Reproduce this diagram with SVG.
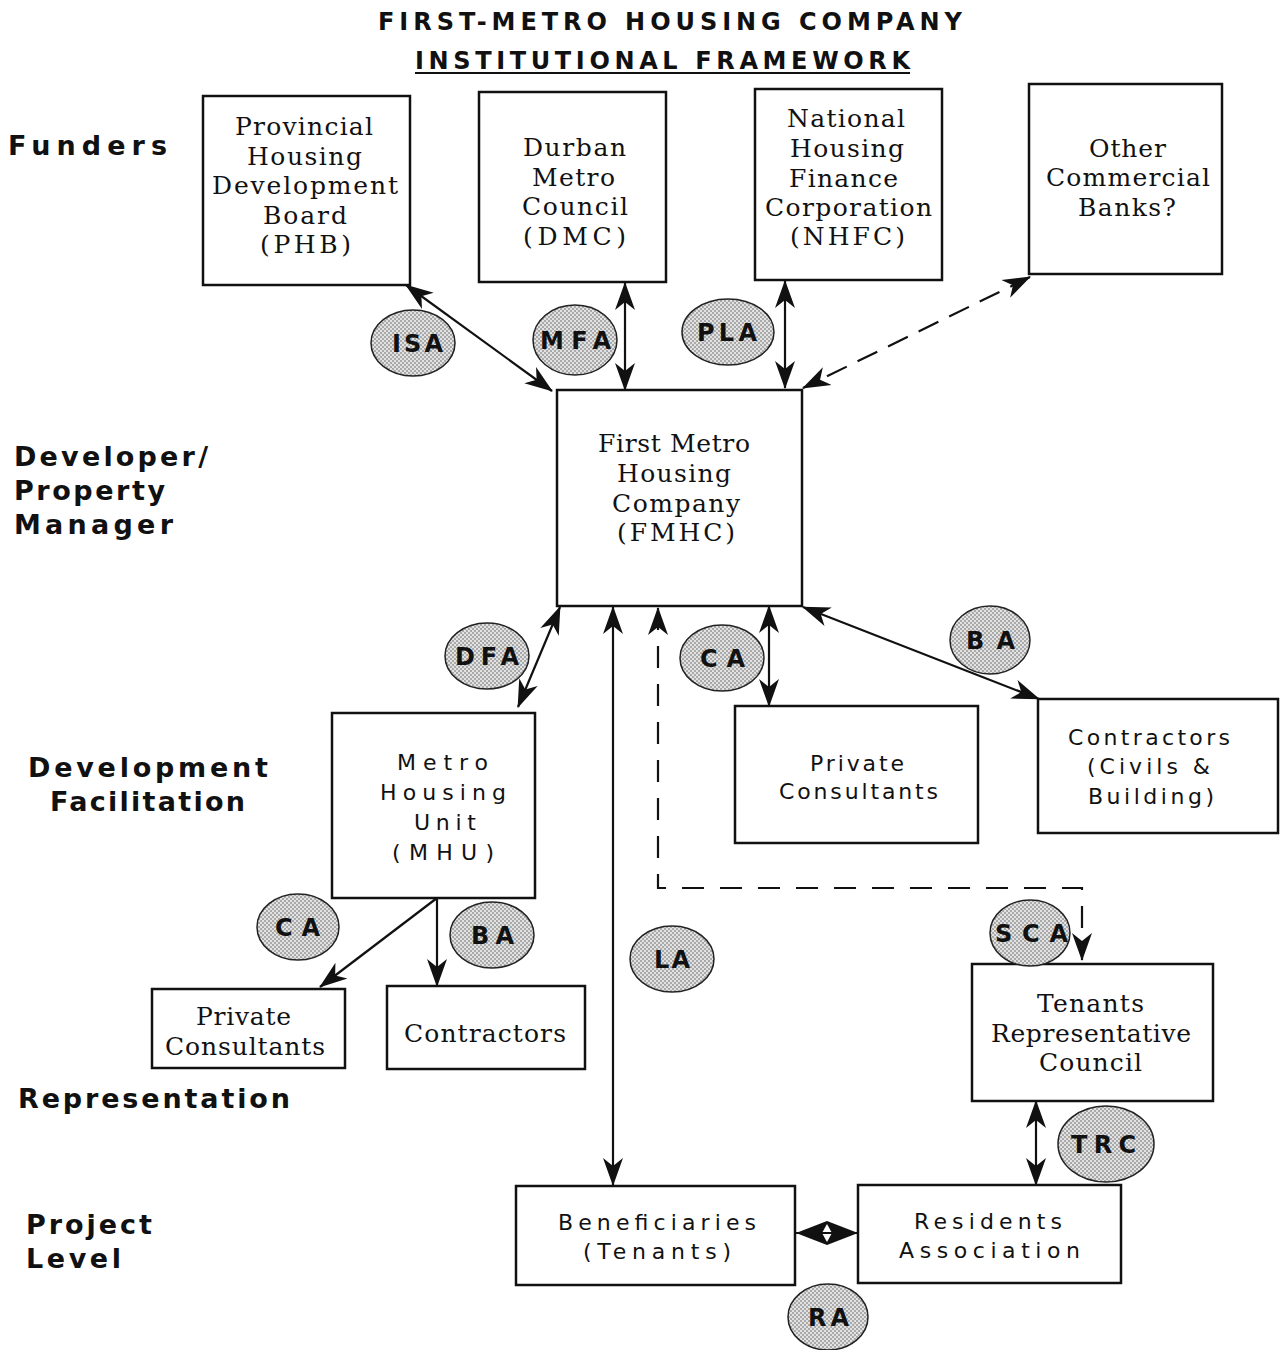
<svg xmlns="http://www.w3.org/2000/svg" width="1284" height="1350" viewBox="0 0 1284 1350">
<defs>
<pattern id="stip" width="4" height="4" patternUnits="userSpaceOnUse">
<rect width="4" height="4" fill="#e2e2e2"/>
<circle cx="1" cy="1" r="0.75" fill="#555"/>
<circle cx="3" cy="3" r="0.75" fill="#555"/>
</pattern>
<marker id="ah" viewBox="0 0 28 22" refX="27" refY="11" markerWidth="28" markerHeight="22" markerUnits="userSpaceOnUse" orient="auto-start-reverse">
<path d="M0,1 L28,11 L0,21 L8,11 z" fill="#111"/>
</marker>
</defs>
<style>
.box{fill:#fff;stroke:#111;stroke-width:2.5}
.ser{font-family:"DejaVu Serif","Liberation Serif",serif;font-size:25px;fill:#111}
.san{font-family:"DejaVu Sans","Liberation Sans",sans-serif;font-size:22px;fill:#111}
.side{font-family:"DejaVu Sans","Liberation Sans",sans-serif;font-weight:bold;font-size:27px;fill:#111}
.ttl{font-family:"DejaVu Sans","Liberation Sans",sans-serif;font-weight:bold;font-size:24px;fill:#111}
.ell{fill:url(#stip);stroke:#222;stroke-width:1.5}
.el{font-family:"DejaVu Sans","Liberation Sans",sans-serif;font-weight:bold;font-size:24px;fill:#111}
.ln{fill:none;stroke:#111;stroke-width:2.2}
</style>
<rect width="1284" height="1350" fill="#fff"/>

<g id="title">
<text class="ttl" x="378" y="30" textLength="584" lengthAdjust="spacing">FIRST-METRO HOUSING COMPANY</text>
<text class="ttl" x="415" y="69" textLength="495" lengthAdjust="spacing">INSTITUTIONAL FRAMEWORK</text>
<line x1="415" y1="73" x2="910" y2="73" stroke="#111" stroke-width="2"/>
</g>

<g id="side-labels">
<text class="side" x="8" y="155" font-size="28" textLength="159" lengthAdjust="spacing">Funders</text>
<text class="side" x="14" y="466" textLength="194" lengthAdjust="spacing">Developer/</text>
<text class="side" x="14" y="500" textLength="151" lengthAdjust="spacing">Property</text>
<text class="side" x="14" y="534" textLength="159" lengthAdjust="spacing">Manager</text>
<text class="side" x="28" y="777" textLength="240" lengthAdjust="spacing">Development</text>
<text class="side" x="50" y="811" textLength="195" lengthAdjust="spacing">Facilitation</text>
<text class="side" x="18" y="1108" textLength="272" lengthAdjust="spacing">Representation</text>
<text class="side" x="26" y="1234" textLength="126" lengthAdjust="spacing">Project</text>
<text class="side" x="26" y="1268" textLength="95" lengthAdjust="spacing">Level</text>
</g>

<g id="connectors">
<line class="ln" x1="406" y1="285" x2="552" y2="391" marker-start="url(#ah)" marker-end="url(#ah)"/>
<line class="ln" x1="625" y1="283" x2="625" y2="390" marker-start="url(#ah)" marker-end="url(#ah)"/>
<line class="ln" x1="785" y1="281" x2="785" y2="388" marker-start="url(#ah)" marker-end="url(#ah)"/>
<line class="ln" x1="1030" y1="277" x2="803" y2="388" stroke-dasharray="22 12" marker-start="url(#ah)" marker-end="url(#ah)"/>
<line class="ln" x1="560" y1="607" x2="518" y2="707" marker-start="url(#ah)" marker-end="url(#ah)"/>
<line class="ln" x1="613" y1="607" x2="613" y2="1185" marker-start="url(#ah)" marker-end="url(#ah)"/>
<path class="ln" d="M658,608 L658,888 L1082,888 L1082,960" stroke-dasharray="22 16" marker-start="url(#ah)" marker-end="url(#ah)"/>
<line class="ln" x1="769" y1="606" x2="769" y2="706" marker-start="url(#ah)" marker-end="url(#ah)"/>
<line class="ln" x1="803" y1="607" x2="1039" y2="699" marker-start="url(#ah)" marker-end="url(#ah)"/>
<line class="ln" x1="437" y1="898" x2="320" y2="987" marker-end="url(#ah)"/>
<line class="ln" x1="437" y1="898" x2="437" y2="986" marker-end="url(#ah)"/>
<line class="ln" x1="1036" y1="1101" x2="1036" y2="1185" marker-start="url(#ah)" marker-end="url(#ah)"/>
<g id="ra-link">
<polygon points="796,1233 827,1221 858,1233 827,1245" fill="#111"/>
<polygon points="827,1224 832,1233 827,1242 822,1233" fill="#fff"/>
<line x1="796" y1="1233" x2="858" y2="1233" stroke="#111" stroke-width="2"/>
</g>
</g>

<g id="phb">
<rect class="box" x="203" y="96" width="207" height="189"/>
<text class="ser" x="235" y="135" textLength="138" lengthAdjust="spacing">Provincial</text>
<text class="ser" x="247" y="165" textLength="115" lengthAdjust="spacing">Housing</text>
<text class="ser" x="212" y="194" textLength="186" lengthAdjust="spacing">Development</text>
<text class="ser" x="263" y="224" textLength="84" lengthAdjust="spacing">Board</text>
<text class="ser" x="260" y="253" textLength="91" lengthAdjust="spacing">(PHB)</text>
</g>

<g id="dmc">
<rect class="box" x="479" y="92" width="187" height="190"/>
<text class="ser" x="523" y="156" textLength="103" lengthAdjust="spacing">Durban</text>
<text class="ser" x="532" y="186" textLength="83" lengthAdjust="spacing">Metro</text>
<text class="ser" x="522" y="215" textLength="106" lengthAdjust="spacing">Council</text>
<text class="ser" x="523" y="245" textLength="103" lengthAdjust="spacing">(DMC)</text>
</g>

<g id="nhfc">
<rect class="box" x="755" y="89" width="187" height="191"/>
<text class="ser" x="787" y="127" textLength="118" lengthAdjust="spacing">National</text>
<text class="ser" x="790" y="157" textLength="114" lengthAdjust="spacing">Housing</text>
<text class="ser" x="789" y="187" textLength="109" lengthAdjust="spacing">Finance</text>
<text class="ser" x="765" y="216" textLength="167" lengthAdjust="spacing">Corporation</text>
<text class="ser" x="790" y="245" textLength="115" lengthAdjust="spacing">(NHFC)</text>
</g>

<g id="banks">
<rect class="box" x="1029" y="84" width="193" height="190"/>
<text class="ser" x="1089" y="157" textLength="77" lengthAdjust="spacing">Other</text>
<text class="ser" x="1046" y="186" textLength="164" lengthAdjust="spacing">Commercial</text>
<text class="ser" x="1078" y="216" textLength="98" lengthAdjust="spacing">Banks?</text>
</g>

<g id="fmhc">
<rect class="box" x="557" y="390" width="245" height="216"/>
<text class="ser" x="598" y="452" textLength="152" lengthAdjust="spacing">First Metro</text>
<text class="ser" x="617" y="482" textLength="114" lengthAdjust="spacing">Housing</text>
<text class="ser" x="612" y="512" textLength="128" lengthAdjust="spacing">Company</text>
<text class="ser" x="617" y="541" textLength="118" lengthAdjust="spacing">(FMHC)</text>
</g>

<g id="mhu">
<rect class="box" x="332" y="713" width="203" height="185"/>
<text class="san" x="397" y="770" textLength="91" lengthAdjust="spacing">Metro</text>
<text class="san" x="380" y="800" textLength="126" lengthAdjust="spacing">Housing</text>
<text class="san" x="414" y="830" textLength="62" lengthAdjust="spacing">Unit</text>
<text class="san" x="392" y="860" textLength="102" lengthAdjust="spacing">(MHU)</text>
</g>

<g id="consultants-right">
<rect class="box" x="735" y="706" width="243" height="137"/>
<text class="san" x="810" y="771" textLength="94" lengthAdjust="spacing">Private</text>
<text class="san" x="779" y="799" textLength="159" lengthAdjust="spacing">Consultants</text>
</g>

<g id="contractors-right">
<rect class="box" x="1038" y="699" width="240" height="134"/>
<text class="san" x="1068" y="745" textLength="162" lengthAdjust="spacing">Contractors</text>
<text class="san" x="1087" y="774" textLength="123" lengthAdjust="spacing">(Civils &amp;</text>
<text class="san" x="1088" y="804" textLength="126" lengthAdjust="spacing">Building)</text>
</g>

<g id="consultants-left">
<rect class="box" x="152" y="989" width="193" height="79"/>
<text class="ser" x="196" y="1025" textLength="95" lengthAdjust="spacing">Private</text>
<text class="ser" x="165" y="1055" textLength="160" lengthAdjust="spacing">Consultants</text>
</g>

<g id="contractors-left">
<rect class="box" x="387" y="986" width="198" height="83"/>
<text class="ser" x="404" y="1042" textLength="162" lengthAdjust="spacing">Contractors</text>
</g>

<g id="trc">
<rect class="box" x="972" y="964" width="241" height="137"/>
<text class="ser" x="1037" y="1012" textLength="107" lengthAdjust="spacing">Tenants</text>
<text class="ser" x="991" y="1042" textLength="200" lengthAdjust="spacing">Representative</text>
<text class="ser" x="1039" y="1071" textLength="103" lengthAdjust="spacing">Council</text>
</g>

<g id="beneficiaries">
<rect class="box" x="516" y="1186" width="279" height="99"/>
<text class="san" x="558" y="1230" textLength="198" lengthAdjust="spacing">Beneficiaries</text>
<text class="san" x="583" y="1259" textLength="148" lengthAdjust="spacing">(Tenants)</text>
</g>

<g id="residents">
<rect class="box" x="858" y="1185" width="263" height="98"/>
<text class="san" x="914" y="1229" textLength="148" lengthAdjust="spacing">Residents</text>
<text class="san" x="899" y="1258" textLength="181" lengthAdjust="spacing">Association</text>
</g>

<g id="agreements">
<g id="isa"><ellipse class="ell" cx="413" cy="343" rx="42" ry="33"/><text class="el" x="392" y="352" textLength="51" lengthAdjust="spacing">ISA</text></g>
<g id="mfa"><ellipse class="ell" cx="575" cy="340" rx="42" ry="35"/><text class="el" x="540" y="349" textLength="71" lengthAdjust="spacing">MFA</text></g>
<g id="pla"><ellipse class="ell" cx="728" cy="332" rx="46" ry="33"/><text class="el" x="697" y="341" textLength="60" lengthAdjust="spacing">PLA</text></g>
<g id="dfa"><ellipse class="ell" cx="487" cy="656" rx="42" ry="33"/><text class="el" x="455" y="665" textLength="64" lengthAdjust="spacing">DFA</text></g>
<g id="ca-top"><ellipse class="ell" cx="722" cy="658" rx="42" ry="33"/><text class="el" x="700" y="667" textLength="45" lengthAdjust="spacing">CA</text></g>
<g id="ba-right"><ellipse class="ell" cx="990" cy="640" rx="40" ry="34"/><text class="el" x="966" y="649" textLength="49" lengthAdjust="spacing">BA</text></g>
<g id="ca-left"><ellipse class="ell" cx="298" cy="927" rx="41" ry="33"/><text class="el" x="275" y="936" textLength="45" lengthAdjust="spacing">CA</text></g>
<g id="ba-mhu"><ellipse class="ell" cx="492" cy="935" rx="42" ry="33"/><text class="el" x="471" y="944" textLength="43" lengthAdjust="spacing">BA</text></g>
<g id="la"><ellipse class="ell" cx="672" cy="959" rx="42" ry="33"/><text class="el" x="654" y="968" textLength="36" lengthAdjust="spacing">LA</text></g>
<g id="sca"><ellipse class="ell" cx="1030" cy="933" rx="40" ry="33"/><text class="el" x="995" y="942" textLength="73" lengthAdjust="spacing">SCA</text></g>
<g id="trc-ell"><ellipse class="ell" cx="1106" cy="1144" rx="48" ry="38"/><text class="el" x="1071" y="1153" textLength="65" lengthAdjust="spacing">TRC</text></g>
<g id="ra"><ellipse class="ell" cx="828" cy="1317" rx="40" ry="33"/><text class="el" x="808" y="1326" textLength="41" lengthAdjust="spacing">RA</text></g>
</g>
</svg>
